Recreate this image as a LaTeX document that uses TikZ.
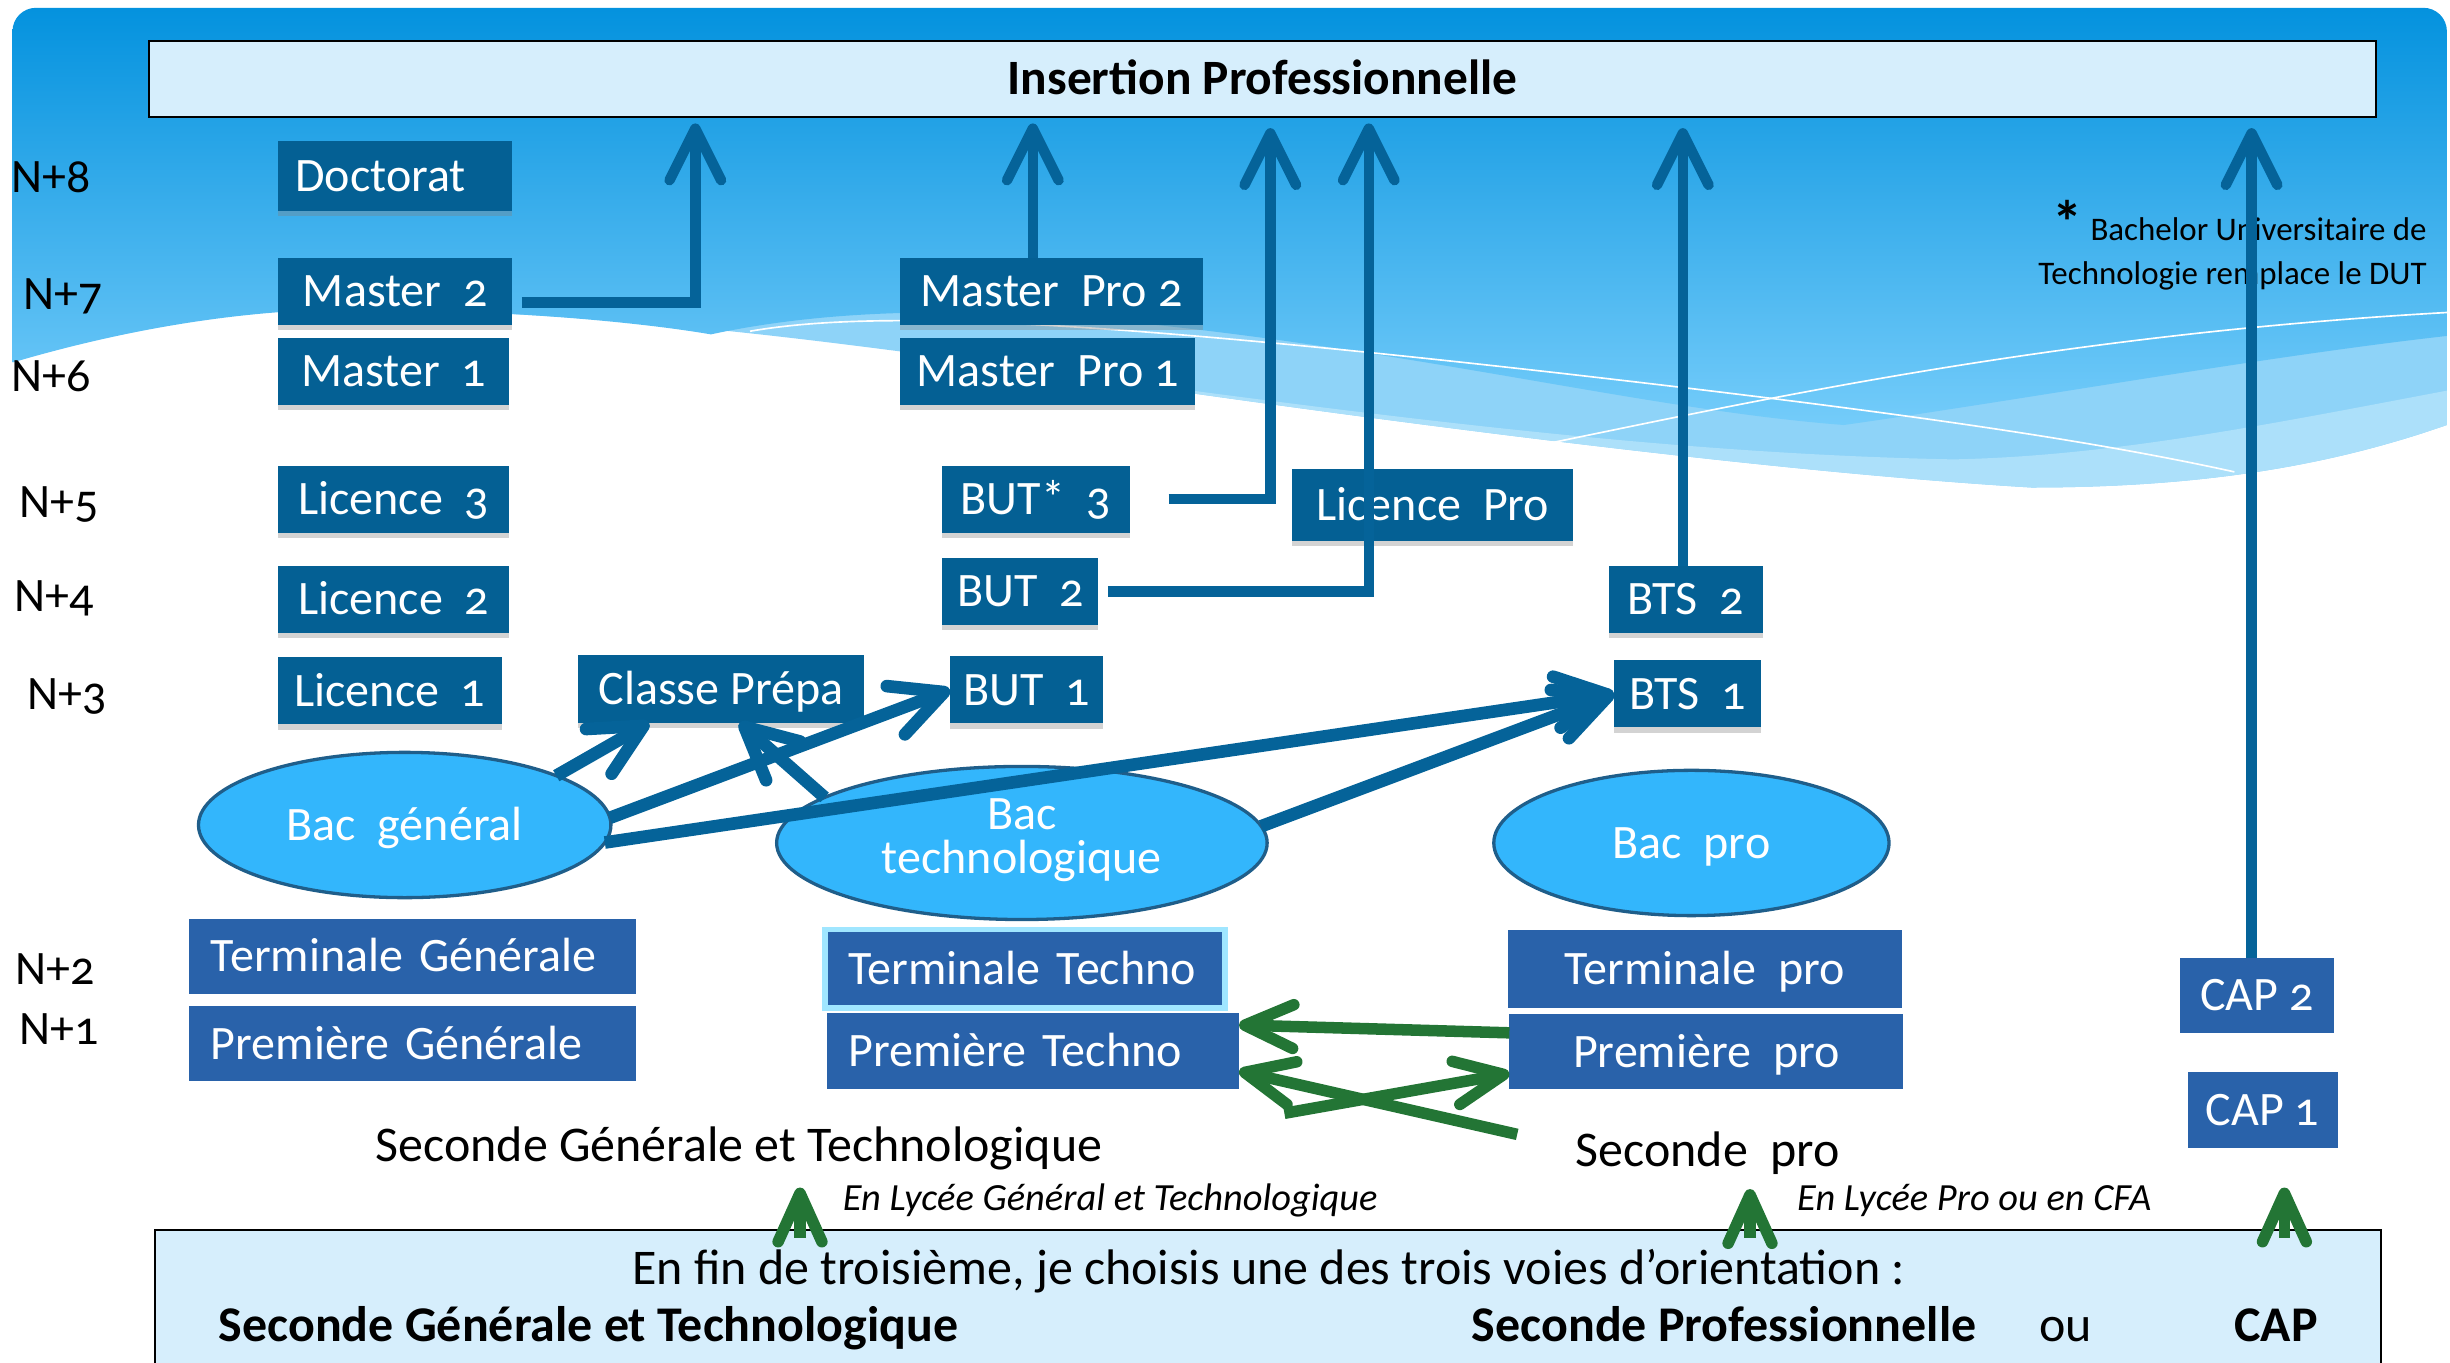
\documentclass[tikz,border=0pt]{standalone}
\usepackage{fontspec}
\setmainfont{Carlito}[Numbers=OldStyle]
\usetikzlibrary{arrows.meta,shapes.geometric,shadows}

\definecolor{bgtop}{RGB}{4,146,222}
\definecolor{bgbottom}{RGB}{116,204,250}
\definecolor{wavemid}{RGB}{142,211,248}
\definecolor{wavepale}{RGB}{172,224,250}
\definecolor{boxdark}{RGB}{4,96,148}
\definecolor{boxmid}{RGB}{41,98,170}
\definecolor{bacfill}{RGB}{51,182,252}
\definecolor{bacline}{RGB}{31,94,138}
\definecolor{paleblue}{RGB}{214,238,252}
\definecolor{arrowblue}{RGB}{5,99,153}
\definecolor{arrowgreen}{RGB}{35,117,53}
\definecolor{glow}{RGB}{160,230,255}

\begin{document}
\begin{tikzpicture}[
  x = 0.02cm, y = -0.02cm,
  every node/.style = {
    inner sep = 0pt,
    outer sep = 0pt,
    text height = 11.3pt,
    text depth = 0pt,
    font = \fontsize{17.5}{20}\selectfont,
  },
  darkbox/.style = {
    shape = rectangle,
    fill = boxdark,
    text = white,
    minimum height = 0.86cm,
    drop shadow = {shadow xshift = 0pt, shadow yshift = -2pt, opacity = 0.35},
  },
  midbox/.style = {
    shape = rectangle,
    fill = boxmid,
    text = white,
    minimum height = 0.96cm,
  },
  bac/.style = {
    shape = ellipse,
    fill = bacfill,
    draw = bacline,
    line width = 1.2pt,
    text = white,
  },
  yearlabel/.style = {anchor = west},
  plaintext/.style = {font = \fontsize{18.2}{20}\selectfont, text height = 11.7pt},
  italicnote/.style = {font = \fontsize{14}{16}\selectfont\itshape, text height = 9pt},
  boldchoice/.style = {anchor = west, font = \fontsize{18.2}{20}\selectfont\bfseries, text height = 11.7pt},
  greenarrow/.style = {
    -{Straight Barb[length = 0.62cm, width = 0.56cm, round]},
    line width = 4.2pt, draw = arrowgreen
  }
]
  \useasboundingbox (0,0) rectangle (1568,872);

  % background waves
  \fill[wavemid] (250,198) .. controls (400,202) and (500,215) .. (600,228)
    .. controls (800,258) and (1100,300) .. (1300,312)
    .. controls (1420,312) and (1500,295) .. (1566,272)
    -- (1566,150) -- (250,150) -- cycle;
  \fill[wavepale] (600,228) .. controls (800,258) and (1100,300) .. (1300,312)
    .. controls (1420,312) and (1500,295) .. (1566,272)
    -- (1566,250) .. controls (1450,272) and (1350,292) .. (1250,294)
    .. controls (1050,290) and (850,262) .. (600,228);
  \shade[top color = bgtop, bottom color = bgbottom]
    (8,232) .. controls (100,205) and (180,196) .. (250,198)
    .. controls (350,200) and (420,208) .. (455,214)
    .. controls (520,200) and (600,196) .. (700,204)
    .. controls (900,222) and (1050,262) .. (1180,272)
    .. controls (1300,255) and (1450,228) .. (1566,215)
    [rounded corners = 0.3cm] -- (1566,5) -- (8,5) [sharp corners] -- cycle;
  \draw[white, line width = 0.6pt] (480,212) .. controls (560,198) and (700,205) .. (1000,239)
    .. controls (1200,262) and (1330,280) .. (1430,302);
  \draw[white, line width = 0.6pt] (970,288) .. controls (1100,262) and (1300,215) .. (1566,200);

  \node[draw = black, fill = paleblue, line width = 0.8pt,
    minimum width = 28.52cm, minimum height = 0.98cm,
    font = \fontsize{18}{20}\selectfont\bfseries] (ins) at (808,50.5) {Insertion Professionnelle};

  % years
  \node[yearlabel] (n8) at (7.5,113) {N+8};
  \node[yearlabel] (n7) at (15,188) {N+7};
  \node[yearlabel] (n6) at (7.5,240.5) {N+6};
  \node[yearlabel] (n5) at (12.5,321.5) {N+5};
  \node[yearlabel] (n4) at (9,381.5) {N+4};
  \node[yearlabel] (n3) at (17.5,444) {N+3};
  \node[yearlabel] (n2) at (10,620) {N+2};
  \node[yearlabel] (n1) at (12.5,658.5) {N+1};

  \node[darkbox, minimum width = 3cm, minimum height = 0.9cm, text width = 2.56cm,
    align = left] (doct) at (253,112.5) {Doctorat};
  \node[darkbox, minimum width = 3cm] (m2) at (253,186.5) {Master~~2};
  \node[darkbox, minimum width = 2.96cm] (m1) at (252,237.5) {Master~~1};
  \node[darkbox, minimum width = 2.96cm] (l3) at (252,319.5) {Licence~~3};
  \node[darkbox, minimum width = 2.96cm] (l2) at (252,383.5) {Licence~~2};
  \node[darkbox, minimum width = 2.86cm] (l1) at (249.5,442) {Licence~~1};
  \node[darkbox, minimum width = 3.66cm] (prepa) at (461.5,441) {Classe Prépa};
  \node[darkbox, minimum width = 1.96cm] (but1) at (657,441.5) {BUT~~1};
  \node[darkbox, minimum width = 2cm] (but2) at (653,378.5) {BUT~~2};
  \node[darkbox, minimum width = 2.4cm] (but3) at (663,319.5) {BUT*~~3};
  \node[darkbox, minimum width = 3.88cm] (mp2) at (673,186.5) {Master~~Pro~2};
  \node[darkbox, minimum width = 3.78cm] (mp1) at (670.5,237.5) {Master~~Pro~1};
  \node[darkbox, minimum width = 3.6cm, minimum height = 0.92cm] (lpro) at (917,323) {Licence~~Pro};
  \node[darkbox, minimum width = 1.96cm] (bts2) at (1079,383.5) {BTS~~2};
  \node[darkbox, minimum width = 1.88cm] (bts1) at (1080,444) {BTS~~1};

  \node[bac, minimum width = 5.28cm, minimum height = 1.86cm] (bacg) at (259,528) {Bac~~général};
  \node[bac, minimum width = 6.28cm, minimum height = 1.96cm, align = center,
    text height = 22.2pt, text depth = 0pt,
    font = \fontsize{17.5}{16}\selectfont] (bact) at (654,539.5) {Bac\\technologique};
  \node[bac, minimum width = 5.06cm, minimum height = 1.86cm] (bacp) at (1082.5,539.5) {Bac~~pro};

  \node[midbox, minimum width = 5.72cm, text width = 5.16cm, align = left] (tg) at (264,612) {Terminale Générale};
  \node[midbox, minimum width = 5.72cm, text width = 5.16cm, align = left] (pg) at (264,668) {Première Générale};
  \node[midbox, draw = glow, line width = 2pt, minimum width = 5.12cm, minimum height = 1cm,
    text width = 4.52cm, align = left] (tt) at (656,620) {Terminale Techno};
  \node[midbox, minimum width = 5.28cm, minimum height = 0.98cm, text width = 4.72cm,
    align = left] (pt) at (661,672.5) {Première Techno};
  \node[midbox, minimum width = 5.04cm, minimum height = 1cm] (tp) at (1091,620) {Terminale~~pro};
  \node[midbox, minimum width = 5.04cm] (pp) at (1092,673) {Première~~pro};
  \node[midbox, minimum width = 1.98cm] (cap2) at (1444.5,637) {CAP 2};
  \node[midbox, minimum width = 1.92cm, minimum height = 0.98cm] (cap1) at (1448,710.5) {CAP 1};

  \node[plaintext] (sgt) at (473,733) {Seconde Générale et Technologique};
  \node[plaintext] (spro) at (1093,736) {Seconde~~pro};
  \node[italicnote] (lyceegt) at (710.5,767) {En Lycée Général et Technologique};
  \node[italicnote] (lyceepro) at (1263.5,767) {En Lycée Pro ou en CFA};

  \node[anchor = base, font = \fontsize{22}{24}\selectfont\bfseries] (star) at (1323,156) {*};
  \node[anchor = east, font = \fontsize{12}{14}\selectfont, text height = 7.7pt] (bul) at (1553,147) {Bachelor Universitaire de};
  \node[anchor = east, font = \fontsize{12}{14}\selectfont, text height = 7.7pt] (dut) at (1553,175) {Technologie remplace le DUT};

  \coordinate (t1) at (445,79);
  \coordinate (t2) at (661,79);
  \coordinate (t3) at (813,82);
  \coordinate (t4) at (876,79);
  \coordinate (t5) at (1077,82);
  \coordinate (t6) at (1441,82);
  \coordinate (sp0) at (971,726);
  \coordinate (sg0) at (822,712.5);
  \coordinate (up1) at (512,760);
  \coordinate (up2) at (1120,761);
  \coordinate (up3) at (1462,760);

  \begin{scope}[
    every path/.style = {
      -{Straight Barb[length = 0.66cm, width = 0.66cm, round]},
      line width = 3.8pt, draw = arrowblue
    }
  ]
    \draw ([xshift = 0.12cm, yshift = -0.14cm]m2.east) -| (t1);
    \draw (t2 |- mp2.north) -- (t2);
    \draw ([xshift = 0.5cm]but3.east) -| (t3);
    \draw ([xshift = 0.12cm]but2.east) -| (t4);
    \draw (t5 |- bts2.north) -- (t5);
    \draw (t6 |- cap2.north) -- (t6);

    \draw[line width = 4.6pt] (bacg.18) -- (prepa.205);
    \draw[line width = 4.6pt] (bacg.2) -- (but1.west);
    \draw[line width = 4.6pt] (bacg.-5) -- (bts1.west);
    \draw[line width = 4.6pt] (bact.167) -- (prepa.299);
    \draw[line width = 4.6pt] (bact.4) -- (bts1.west);
  \end{scope}

  \draw[greenarrow] ([yshift = 0.24cm]pp.west) -- ([yshift = 0.33cm]pt.east);
  \draw[greenarrow] (sp0) -- ([yshift = -0.26cm]pt.east);
  \draw[greenarrow] (sg0) -- ([yshift = -0.28cm]pp.west);

  % bottom box
  \node[draw = black, fill = paleblue, line width = 0.8pt, minimum width = 28.5cm,
    minimum height = 2cm, anchor = north] (bot) at (811.5,787) {};
  \node[plaintext] (choix) at (812,812) {En fin de troisième, je choisis une des trois voies d’orientation :};
  \node[boldchoice] (vgt) at (140,848.5) {Seconde Générale et Technologique};
  \node[boldchoice] (vpro) at (942,848.5) {Seconde Professionnelle};
  \node[plaintext, anchor = west] (ou) at (1305,848.5) {ou};
  \node[boldchoice] (vcap) at (1430,848.5) {CAP};

  \draw[greenarrow, shorten <= -0.1cm] (up1 |- bot.north) -- (up1);
  \draw[greenarrow, shorten <= -0.1cm] (up2 |- bot.north) -- (up2);
  \draw[greenarrow, shorten <= -0.1cm] (up3 |- bot.north) -- (up3);
\end{tikzpicture}
\end{document}
